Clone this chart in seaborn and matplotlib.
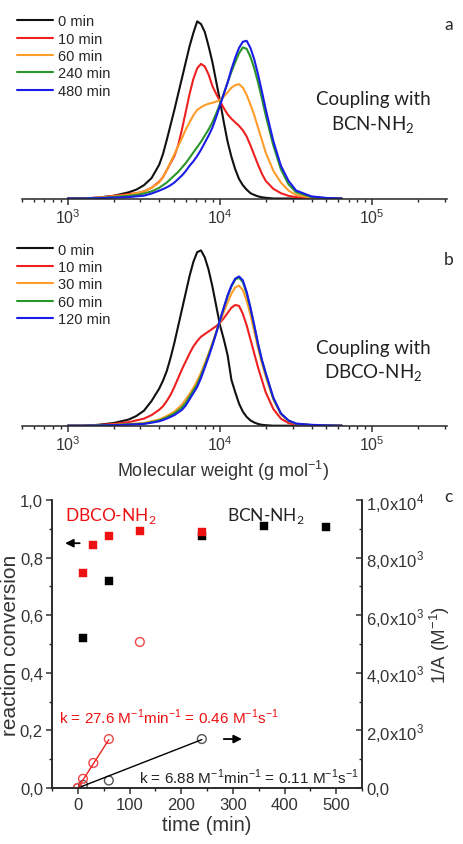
import numpy as np
import matplotlib
matplotlib.use("Agg")
import matplotlib.pyplot as plt
from matplotlib.ticker import MultipleLocator, LogLocator, NullFormatter
import seaborn as sns

sns.set_style("ticks")
plt.rcParams['font.family'] = ['Liberation Sans', 'DejaVu Sans']
plt.rcParams['axes.linewidth'] = 1.1

# GPC traces: x = log10(M / g mol-1), y = normalised signal (0 min peak = 1)
log_mw = [3.0, 3.1, 3.2, 3.3, 3.4, 3.45, 3.5, 3.55,
          3.6, 3.625, 3.65, 3.675, 3.7, 3.725, 3.75, 3.775, 3.8, 3.825, 3.85, 3.875, 3.9,
          3.925, 3.95, 3.975, 4.0, 4.025, 4.05, 4.075, 4.1, 4.125, 4.15, 4.175, 4.2, 4.225,
          4.25, 4.275, 4.3,
          4.35, 4.4, 4.45, 4.5, 4.6, 4.7, 4.8]

# panel a, coupling with BCN-NH2
bcn_0 = [0, 0, .005, .015, .035, .05, .075, .115,
         .19, .25, .33, .415, .50, .59, .68, .77, .86, .935, 1.0, .985, .94,
         .86, .77, .66, .55, .43, .32, .235, .165, .11, .075, .05, .03, .02,
         .012, .007, .004,
         0, 0, 0, 0, 0, 0, 0]
bcn_10 = [0, 0, .005, .015, .025, .03, .04, .06,
          .095, .12, .16, .20, .24, .30, .39, .49, .59, .675, .735, .76, .745,
          .70, .635, .59, .55, .51, .475, .45, .43, .41, .385, .35, .30, .245,
          .19, .14, .10,
          .055, .03, .015, .008, .002, 0, 0]
bcn_60 = [0, 0, .005, .012, .02, .03, .04, .06,
          .09, .12, .16, .205, .25, .295, .34, .39, .43, .47, .50, .515, .527,
          .535, .54, .547, .555, .575, .60, .625, .64, .645, .626, .585, .53, .47,
          .40, .33, .26,
          .157, .09, .045, .02, .005, 0, 0]
bcn_240 = [0, 0, .003, .008, .015, .02, .028, .04,
           .06, .075, .09, .11, .13, .15, .175, .20, .23, .26, .29, .32, .355,
           .39, .43, .48, .535, .595, .655, .715, .77, .82, .853, .845, .80, .735,
           .655, .565, .47,
           .30, .165, .08, .035, .008, .002, 0]
bcn_480 = [0, 0, .002, .005, .008, .012, .016, .028,
           .044, .053, .063, .075, .09, .11, .13, .155, .185, .21, .24, .275, .315,
           .355, .40, .46, .525, .59, .655, .73, .795, .85, .885, .89, .85, .785,
           .70, .605, .505,
           .325, .185, .10, .045, .012, .003, 0]
bcn_labels = ['0 min', '10 min', '60 min', '240 min', '480 min']

# panel b, coupling with DBCO-NH2
dbco_0 = [0, 0, .005, .015, .035, .055, .085, .14,
          .21, .255, .31, .385, .47, .565, .66, .755, .85, .93, .985, .995, .955,
          .885, .79, .68, .57, .49, .40, .26, .19, .125, .08, .05, .03, .018,
          .01, .005, .003,
          0, 0, 0, 0, 0, 0, 0]
dbco_10 = [0, 0, .004, .01, .02, .03, .04, .06,
           .09, .11, .14, .175, .22, .27, .32, .365, .41, .45, .48, .505, .52,
           .535, .55, .565, .585, .61, .64, .67, .685, .68, .635, .57, .49, .41,
           .33, .26, .19,
           .095, .04, .015, .006, .002, 0, 0]
dbco_30 = [0, 0, .002, .005, .01, .012, .015, .025,
           .035, .045, .055, .067, .08, .10, .12, .15, .18, .215, .255, .30, .355,
           .41, .47, .53, .59, .645, .70, .75, .785, .795, .77, .71, .63, .535,
           .44, .355, .28,
           .15, .065, .028, .01, .003, 0, 0]
dbco_60 = [0, 0, .002, .004, .008, .01, .012, .02,
           .03, .038, .048, .058, .07, .086, .105, .13, .165, .20, .235, .285, .34,
           .40, .46, .53, .60, .67, .735, .79, .83, .84, .815, .75, .665, .565,
           .46, .37, .295,
           .155, .068, .028, .011, .004, .001, 0]
dbco_120 = [0, 0, .001, .003, .006, .008, .01, .017,
            .025, .032, .04, .05, .06, .075, .09, .115, .15, .185, .22, .27, .33,
            .39, .455, .525, .60, .67, .74, .795, .835, .847, .825, .76, .67, .57,
            .465, .375, .30,
            .16, .07, .03, .012, .005, .002, 0]
dbco_labels = ['0 min', '10 min', '30 min', '60 min', '120 min']

trace_colors = ['#111111', '#ee2020', '#ff9d2b', '#2a962a', '#1c1ce8']

# panel c, conversion (left axis) and 1/A (right axis) vs time
time_bcn = [10, 60, 240, 360, 480]
conv_bcn = [0.52, 0.72, 0.875, 0.91, 0.905]
time_dbco = [10, 30, 60, 120, 240]
conv_dbco = [0.745, 0.845, 0.875, 0.893, 0.89]

inv_time_bcn = [0, 10, 60, 240]
inv_a_bcn = [0, 110, 260, 1700]
inv_time_dbco = [0, 10, 30, 60, 120]
inv_a_dbco = [0, 320, 870, 1700, 5070]

fit_time_bcn = [0, 240]
fit_bcn = [0, 1680]
fit_time_dbco = [0, 60]
fit_dbco = [0, 1680]

left_ticks = [0.0, 0.2, 0.4, 0.6, 0.8, 1.0]
left_labels = ['0,0', '0,2', '0,4', '0,6', '0,8', '1,0']
right_ticks = [0, 2000, 4000, 6000, 8000, 10000]
right_labels = ['0,0', r'2,0x10$^\mathregular{3}$', r'4,0x10$^\mathregular{3}$',
                r'6,0x10$^\mathregular{3}$', r'8,0x10$^\mathregular{3}$', r'1,0x10$^\mathregular{4}$']

W, H = 463, 845
fig = plt.figure(figsize=(W / 100, H / 100), dpi=100)
ax_a = fig.add_axes([22 / W, 1 - 199.5 / H, 425 / W, 186 / H])
ax_b = fig.add_axes([22 / W, 1 - 426.7 / H, 425 / W, 185 / H])
ax_c = fig.add_axes([52 / W, 1 - 789 / H, 310 / W, 288 / H])

mw = 10 ** np.array(log_mw)
panels = [
    (ax_a, [bcn_0, bcn_10, bcn_60, bcn_240, bcn_480], bcn_labels, 'a', 0.94),
    (ax_b, [dbco_0, dbco_10, dbco_30, dbco_60, dbco_120], dbco_labels, 'b', 0.90),
]
for ax, traces, labels, letter, letter_y in panels:
    for y, lab, col in zip(traces, labels, trace_colors):
        sns.lineplot(x=mw, y=y, color=col, lw=1.5, label=lab, ax=ax)
    ax.set_xscale('log')
    ax.set_xlim(500, 3.1e5)
    ax.set_ylim(0, 1.05)
    for s in ['left', 'right', 'top']:
        ax.spines[s].set_visible(False)
    ax.set_yticks([])
    ax.set_ylabel('')
    ax.set_xticks([1e3, 1e4, 1e5])
    ax.set_xticklabels([r'10$^\mathregular{3}$', r'10$^\mathregular{4}$', r'10$^\mathregular{5}$'])
    ax.xaxis.set_minor_locator(LogLocator(base=10, subs=np.arange(2, 10)))
    ax.xaxis.set_minor_formatter(NullFormatter())
    ax.tick_params(axis='x', which='major', direction='out', length=4.5, width=1.1,
                   labelsize=11.5, pad=2, colors='#333333')
    ax.tick_params(axis='x', which='minor', direction='out', length=2.5, width=1.0)
    ax.legend(loc='upper left', bbox_to_anchor=(-0.012, 0.99), frameon=False,
              fontsize=10.5, handlelength=2.5, handletextpad=0.3, labelspacing=0.23,
              borderpad=0, borderaxespad=0)
    ax.text(1.005, letter_y, letter, transform=ax.transAxes,
            ha='center', va='center', fontsize=12.5, family='Lato')

ax_a.text(0.826, 0.535, 'Coupling with', transform=ax_a.transAxes, ha='center',
          va='center', fontsize=13.5, family='Lato', color='#222222')
ax_a.text(0.826, 0.40, r'BCN-NH$_\mathregular{2}$', transform=ax_a.transAxes, ha='center',
          va='center', fontsize=13.5, family='Lato', color='#222222')
ax_b.text(0.826, 0.425, 'Coupling with', transform=ax_b.transAxes, ha='center',
          va='center', fontsize=13.5, family='Lato', color='#222222')
ax_b.text(0.826, 0.29, r'DBCO-NH$_\mathregular{2}$', transform=ax_b.transAxes, ha='center',
          va='center', fontsize=13.5, family='Lato', color='#222222')
ax_b.set_xlabel(r'Molecular weight (g mol$^\mathregular{-1}$)', fontsize=13, color='#333333')
ax_b.xaxis.set_label_coords(0.473, -0.175)

# panel c
ax2 = ax_c.twinx()
sns.scatterplot(x=time_bcn, y=conv_bcn, marker='s', s=34, color='black',
                edgecolor='black', linewidth=0.3, ax=ax_c, zorder=3)
sns.scatterplot(x=time_dbco, y=conv_dbco, marker='s', s=34, color='#ee1111',
                edgecolor='#ee1111', linewidth=0.3, ax=ax_c, zorder=4)

sns.lineplot(x=fit_time_bcn, y=fit_bcn, color='black', lw=1.0, ax=ax2)
sns.lineplot(x=fit_time_dbco, y=fit_dbco, color='#ee2222', lw=1.0, ax=ax2)
sns.scatterplot(x=inv_time_bcn, y=inv_a_bcn, marker='o', s=40, color='#555555',
                facecolor='none', edgecolor='#555555', linewidth=1.0, ax=ax2)
sns.scatterplot(x=inv_time_dbco, y=inv_a_dbco, marker='o', s=40, color='#f04848',
                facecolor='none', edgecolor='#f04848', linewidth=1.0, ax=ax2)

ax_c.set_xlim(-50, 550)
ax_c.set_ylim(0, 1.0)
ax2.set_ylim(0, 10000)
ax_c.spines['top'].set_visible(False)
ax2.spines['top'].set_visible(False)
ax_c.set_yticks(left_ticks)
ax_c.set_yticklabels(left_labels)
ax2.set_yticks(right_ticks)
ax2.set_yticklabels(right_labels)
ax_c.xaxis.set_major_locator(MultipleLocator(100))
ax_c.xaxis.set_minor_locator(MultipleLocator(50))
ax_c.yaxis.set_minor_locator(MultipleLocator(0.1))
ax2.yaxis.set_minor_locator(MultipleLocator(1000))
ax_c.tick_params(which='major', direction='out', length=4.5, width=1.1, labelsize=12,
                 pad=2, colors='#333333')
ax_c.tick_params(which='minor', direction='out', length=2.5, width=1.0)
ax2.tick_params(which='major', direction='in', length=4.5, width=1.1, labelsize=12,
                pad=3, colors='#333333')
ax2.tick_params(which='minor', direction='in', length=2.5, width=1.0)

ax_c.set_xlabel('time (min)', fontsize=14.5, color='#333333', labelpad=2)
ax_c.set_ylabel('reaction conversion', fontsize=15, color='#333333', labelpad=0)
ax2.set_ylabel(r'1/A (M$^\mathregular{-1}$)', fontsize=13.5, color='#333333', labelpad=2)

ax_c.text(64, 0.948, r'DBCO-NH$_\mathregular{2}$', color='#ee1111', ha='center', va='center',
          fontsize=12.5, family='Lato')
ax_c.text(363, 0.948, r'BCN-NH$_\mathregular{2}$', color='#222222', ha='center', va='center',
          fontsize=12.5, family='Lato')
ax_c.text(176, 0.25, r'k = 27.6 M$^\mathregular{-1}$min$^\mathregular{-1}$ = 0.46 M$^\mathregular{-1}$s$^\mathregular{-1}$',
          color='#ee1111', ha='center', va='center', fontsize=11)
ax_c.text(332, 0.042, r'k = 6.88 M$^\mathregular{-1}$min$^\mathregular{-1}$ = 0.11 M$^\mathregular{-1}$s$^\mathregular{-1}$',
          color='#222222', ha='center', va='center', fontsize=11)
ax_c.annotate('', xy=(-30, 0.85), xytext=(9, 0.85),
              arrowprops=dict(arrowstyle='-|>', color='black', lw=1.3, mutation_scale=12))
ax_c.annotate('', xy=(323, 0.17), xytext=(277, 0.17),
              arrowprops=dict(arrowstyle='-|>', color='black', lw=1.3, mutation_scale=12))
fig.text(448 / W, 1 - 497 / H, 'c', ha='center', va='center', fontsize=12.5, family='Lato')

fig.savefig('out.png', dpi=100)
